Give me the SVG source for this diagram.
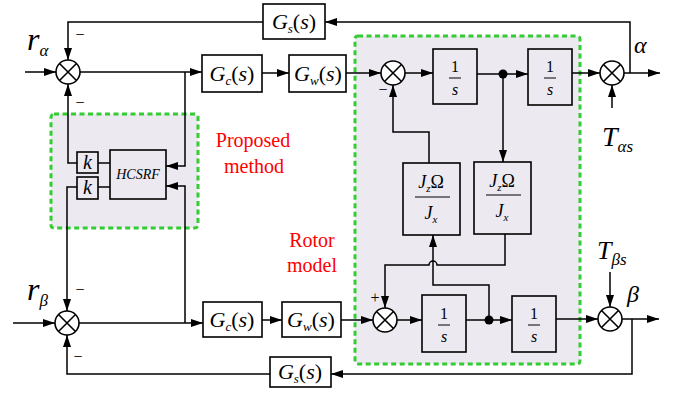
<svg xmlns="http://www.w3.org/2000/svg" width="681" height="394" viewBox="0 0 681 394">
<defs>
<marker id="ah" viewBox="0 0 12 8" refX="12" refY="4" markerWidth="12" markerHeight="8" markerUnits="userSpaceOnUse" orient="auto">
<path d="M0,0 L12,4 L0,8 z" fill="#000"/>
</marker>
<g id="sumj">
<circle cx="0" cy="0" r="12" fill="#fff" stroke="#000" stroke-width="1.6"/>
<path d="M-8.5,-8.5 L8.5,8.5 M-8.5,8.5 L8.5,-8.5" stroke="#000" stroke-width="1.6"/>
</g>
</defs>
<g id="regions" fill="#ece9f1" stroke="#33cc33" stroke-width="3" stroke-dasharray="5 3.5">
<rect id="proposed-region" x="51" y="114" width="147" height="114" rx="3"/>
<rect id="rotor-region" x="355" y="36" width="225" height="328" rx="3"/>
</g>
<g id="connectors" fill="none" stroke="#000" stroke-width="1.5" marker-end="url(#ah)">
<path d="M25,72 H56"/>
<path d="M80,72 H202"/>
<path d="M185,72 V166 H166"/>
<path d="M262,73 H289"/>
<path d="M346,73 H381"/>
<path d="M405,73 H433"/>
<path d="M477,74 H528"/>
<path d="M503,74 V162"/>
<path d="M572,73 H600"/>
<path d="M624,73 H660"/>
<path d="M630,73 V22 H325"/>
<path d="M263,22 H68 V60"/>
<path d="M429,163 V132 H393 V85"/>
<path d="M612,108 V85"/>
<path d="M77,163 H68 V84"/>
<path d="M98,163 H110" marker-end="none"/>
<path d="M98,187 H110" marker-end="none"/>
<path d="M13,323 H55"/>
<path d="M79,323 H203"/>
<path d="M185,323 V186 H166"/>
<path d="M77,187 H67 V311"/>
<path d="M262,320 H282"/>
<path d="M341,320 H373"/>
<path d="M397,320 H422"/>
<path d="M466,320 H512"/>
<path d="M489,320 V285 H433 V235"/>
<path d="M505,234 V265 H437 A4,4 0 0 0 429,265 H385 V308"/>
<path d="M556,319 H598"/>
<path d="M622,319 H659"/>
<path d="M632,319 V374 H331"/>
<path d="M270,374 H67 V335"/>
<path d="M610,272 V307"/>
<circle cx="503" cy="74" r="4.5" fill="#000" stroke="none" marker-end="none"/>
<circle cx="489" cy="320" r="4.5" fill="#000" stroke="none" marker-end="none"/>
</g>
<g id="sum-alpha-in"><use href="#sumj" x="68" y="72"/></g>
<g id="sum-rotor-top"><use href="#sumj" x="393" y="73"/></g>
<g id="sum-alpha-out"><use href="#sumj" x="612" y="73"/></g>
<g id="sum-beta-in"><use href="#sumj" x="67" y="323"/></g>
<g id="sum-rotor-bottom"><use href="#sumj" x="385" y="320"/></g>
<g id="sum-beta-out"><use href="#sumj" x="610" y="319"/></g>
<g id="signs" font-size="16" text-anchor="middle">
<text style="font-family:'Liberation Serif',serif" x="80" y="40">−</text>
<text style="font-family:'Liberation Serif',serif" x="80" y="108">−</text>
<text style="font-family:'Liberation Serif',serif" x="383" y="95">−</text>
<text style="font-family:'Liberation Serif',serif" x="80" y="295">−</text>
<text style="font-family:'Liberation Serif',serif" x="78" y="362">−</text>
<text style="font-family:'Liberation Serif',serif" x="375" y="303">+</text>
</g>
<g id="Gs-top"><rect x="263" y="4" width="62" height="35" fill="#fff" stroke="#000" stroke-width="1.6"/>
<text style="font-family:'Liberation Serif',serif" font-size="22" x="294" y="29" text-anchor="middle"><tspan font-style="italic">G</tspan><tspan font-style="italic" font-size="13" dy="4">s</tspan><tspan dy="-4">(</tspan><tspan font-style="italic">s</tspan>)</text></g>
<g id="Gc-top"><rect x="202" y="55" width="60" height="37" fill="#fff" stroke="#000" stroke-width="1.6"/>
<text style="font-family:'Liberation Serif',serif" font-size="22" x="232" y="81" text-anchor="middle"><tspan font-style="italic">G</tspan><tspan font-style="italic" font-size="13" dy="4">c</tspan><tspan dy="-4">(</tspan><tspan font-style="italic">s</tspan>)</text></g>
<g id="Gw-top"><rect x="289" y="55" width="57" height="37" fill="#fff" stroke="#000" stroke-width="1.6"/>
<text style="font-family:'Liberation Serif',serif" font-size="22" x="318" y="81" text-anchor="middle"><tspan font-style="italic">G</tspan><tspan font-style="italic" font-size="13" dy="4">w</tspan><tspan dy="-4">(</tspan><tspan font-style="italic">s</tspan>)</text></g>
<g id="int1-top"><rect x="433" y="49" width="44" height="55" fill="none" stroke="#000" stroke-width="1.6"/>
<text style="font-family:'Liberation Serif',serif" font-size="16" x="455" y="72" text-anchor="middle">1</text><path d="M449,78 H461" stroke="#000" stroke-width="1"/><text style="font-family:'Liberation Serif',serif" font-size="16" font-style="italic" x="455" y="95" text-anchor="middle">s</text></g>
<g id="int2-top"><rect x="528" y="49" width="44" height="56" fill="none" stroke="#000" stroke-width="1.6"/>
<text style="font-family:'Liberation Serif',serif" font-size="16" x="550" y="72" text-anchor="middle">1</text><path d="M544,78 H556" stroke="#000" stroke-width="1"/><text style="font-family:'Liberation Serif',serif" font-size="16" font-style="italic" x="550" y="95" text-anchor="middle">s</text></g>
<g id="cross-left"><rect x="403" y="163" width="57" height="72" fill="none" stroke="#000" stroke-width="1.6"/>
<text style="font-family:'Liberation Serif',serif" x="431" y="188" text-anchor="middle" font-size="18"><tspan font-style="italic">J</tspan><tspan font-style="italic" font-size="11" dy="4">z</tspan><tspan dy="-4">Ω</tspan></text>
<path d="M415,197 H450" stroke="#000" stroke-width="1"/>
<text style="font-family:'Liberation Serif',serif" x="431" y="219" text-anchor="middle" font-size="18"><tspan font-style="italic">J</tspan><tspan font-style="italic" font-size="11" dy="4">x</tspan></text></g>
<g id="cross-right"><rect x="474" y="162" width="57" height="72" fill="none" stroke="#000" stroke-width="1.6"/>
<text style="font-family:'Liberation Serif',serif" x="502" y="187" text-anchor="middle" font-size="18"><tspan font-style="italic">J</tspan><tspan font-style="italic" font-size="11" dy="4">z</tspan><tspan dy="-4">Ω</tspan></text>
<path d="M486,195 H521" stroke="#000" stroke-width="1"/>
<text style="font-family:'Liberation Serif',serif" x="502" y="217" text-anchor="middle" font-size="18"><tspan font-style="italic">J</tspan><tspan font-style="italic" font-size="11" dy="4">x</tspan></text></g>
<g id="HCSRF"><rect x="110" y="150" width="56" height="49" fill="none" stroke="#000" stroke-width="1.6"/>
<text style="font-family:'Liberation Serif',serif" font-style="italic" x="138" y="179" text-anchor="middle" font-size="14">HCSRF</text></g>
<g id="k-top"><rect x="77" y="152" width="21" height="21" fill="none" stroke="#000" stroke-width="1.6"/>
<text style="font-family:'Liberation Serif',serif" font-style="italic" x="87.5" y="169" text-anchor="middle" font-size="20">k</text></g>
<g id="k-bottom"><rect x="77" y="177" width="21" height="22" fill="none" stroke="#000" stroke-width="1.6"/>
<text style="font-family:'Liberation Serif',serif" font-style="italic" x="87.5" y="194" text-anchor="middle" font-size="20">k</text></g>
<g id="Gc-bottom"><rect x="203" y="302" width="59" height="35" fill="#fff" stroke="#000" stroke-width="1.6"/>
<text style="font-family:'Liberation Serif',serif" font-size="22" x="232" y="327" text-anchor="middle"><tspan font-style="italic">G</tspan><tspan font-style="italic" font-size="13" dy="4">c</tspan><tspan dy="-4">(</tspan><tspan font-style="italic">s</tspan>)</text></g>
<g id="Gw-bottom"><rect x="282" y="302" width="59" height="35" fill="#fff" stroke="#000" stroke-width="1.6"/>
<text style="font-family:'Liberation Serif',serif" font-size="22" x="311" y="327" text-anchor="middle"><tspan font-style="italic">G</tspan><tspan font-style="italic" font-size="13" dy="4">w</tspan><tspan dy="-4">(</tspan><tspan font-style="italic">s</tspan>)</text></g>
<g id="int1-bottom"><rect x="422" y="295" width="44" height="57" fill="none" stroke="#000" stroke-width="1.6"/>
<text style="font-family:'Liberation Serif',serif" font-size="16" x="444" y="319" text-anchor="middle">1</text><path d="M438,325 H450" stroke="#000" stroke-width="1"/><text style="font-family:'Liberation Serif',serif" font-size="16" font-style="italic" x="444" y="342" text-anchor="middle">s</text></g>
<g id="int2-bottom"><rect x="512" y="296" width="44" height="56" fill="none" stroke="#000" stroke-width="1.6"/>
<text style="font-family:'Liberation Serif',serif" font-size="16" x="534" y="319" text-anchor="middle">1</text><path d="M528,325 H540" stroke="#000" stroke-width="1"/><text style="font-family:'Liberation Serif',serif" font-size="16" font-style="italic" x="534" y="342" text-anchor="middle">s</text></g>
<g id="Gs-bottom"><rect x="270" y="357" width="61" height="30" fill="#fff" stroke="#000" stroke-width="1.6"/>
<text style="font-family:'Liberation Serif',serif" font-size="22" x="300" y="379" text-anchor="middle"><tspan font-style="italic">G</tspan><tspan font-style="italic" font-size="13" dy="4">s</tspan><tspan dy="-4">(</tspan><tspan font-style="italic">s</tspan>)</text></g>
<g id="labels">
<text style="font-family:'Liberation Serif',serif" font-style="italic" x="27" y="50" font-size="32">r<tspan font-size="17" dy="6">α</tspan></text>
<text style="font-family:'Liberation Serif',serif" font-style="italic" x="27" y="300" font-size="32">r<tspan font-size="17" dy="6">β</tspan></text>
<text style="font-family:'Liberation Serif',serif" font-style="italic" x="634" y="53" font-size="24">α</text>
<text style="font-family:'Liberation Serif',serif" font-style="italic" x="627" y="302" font-size="24">β</text>
<text style="font-family:'Liberation Serif',serif" font-style="italic" x="602" y="146" font-size="28">T<tspan font-size="17" dy="6">αs</tspan></text>
<text style="font-family:'Liberation Serif',serif" font-style="italic" x="597" y="259" font-size="26">T<tspan font-size="17" dy="6">βs</tspan></text>
<text style="font-family:'Liberation Serif',serif" fill="#ff0000" font-size="20" x="253" y="147" text-anchor="middle">Proposed</text>
<text style="font-family:'Liberation Serif',serif" fill="#ff0000" font-size="20" x="254" y="173" text-anchor="middle">method</text>
<text style="font-family:'Liberation Serif',serif" fill="#ff0000" font-size="20" x="312" y="247" text-anchor="middle">Rotor</text>
<text style="font-family:'Liberation Serif',serif" fill="#ff0000" font-size="20" x="312" y="272" text-anchor="middle">model</text>
</g>
</svg>
